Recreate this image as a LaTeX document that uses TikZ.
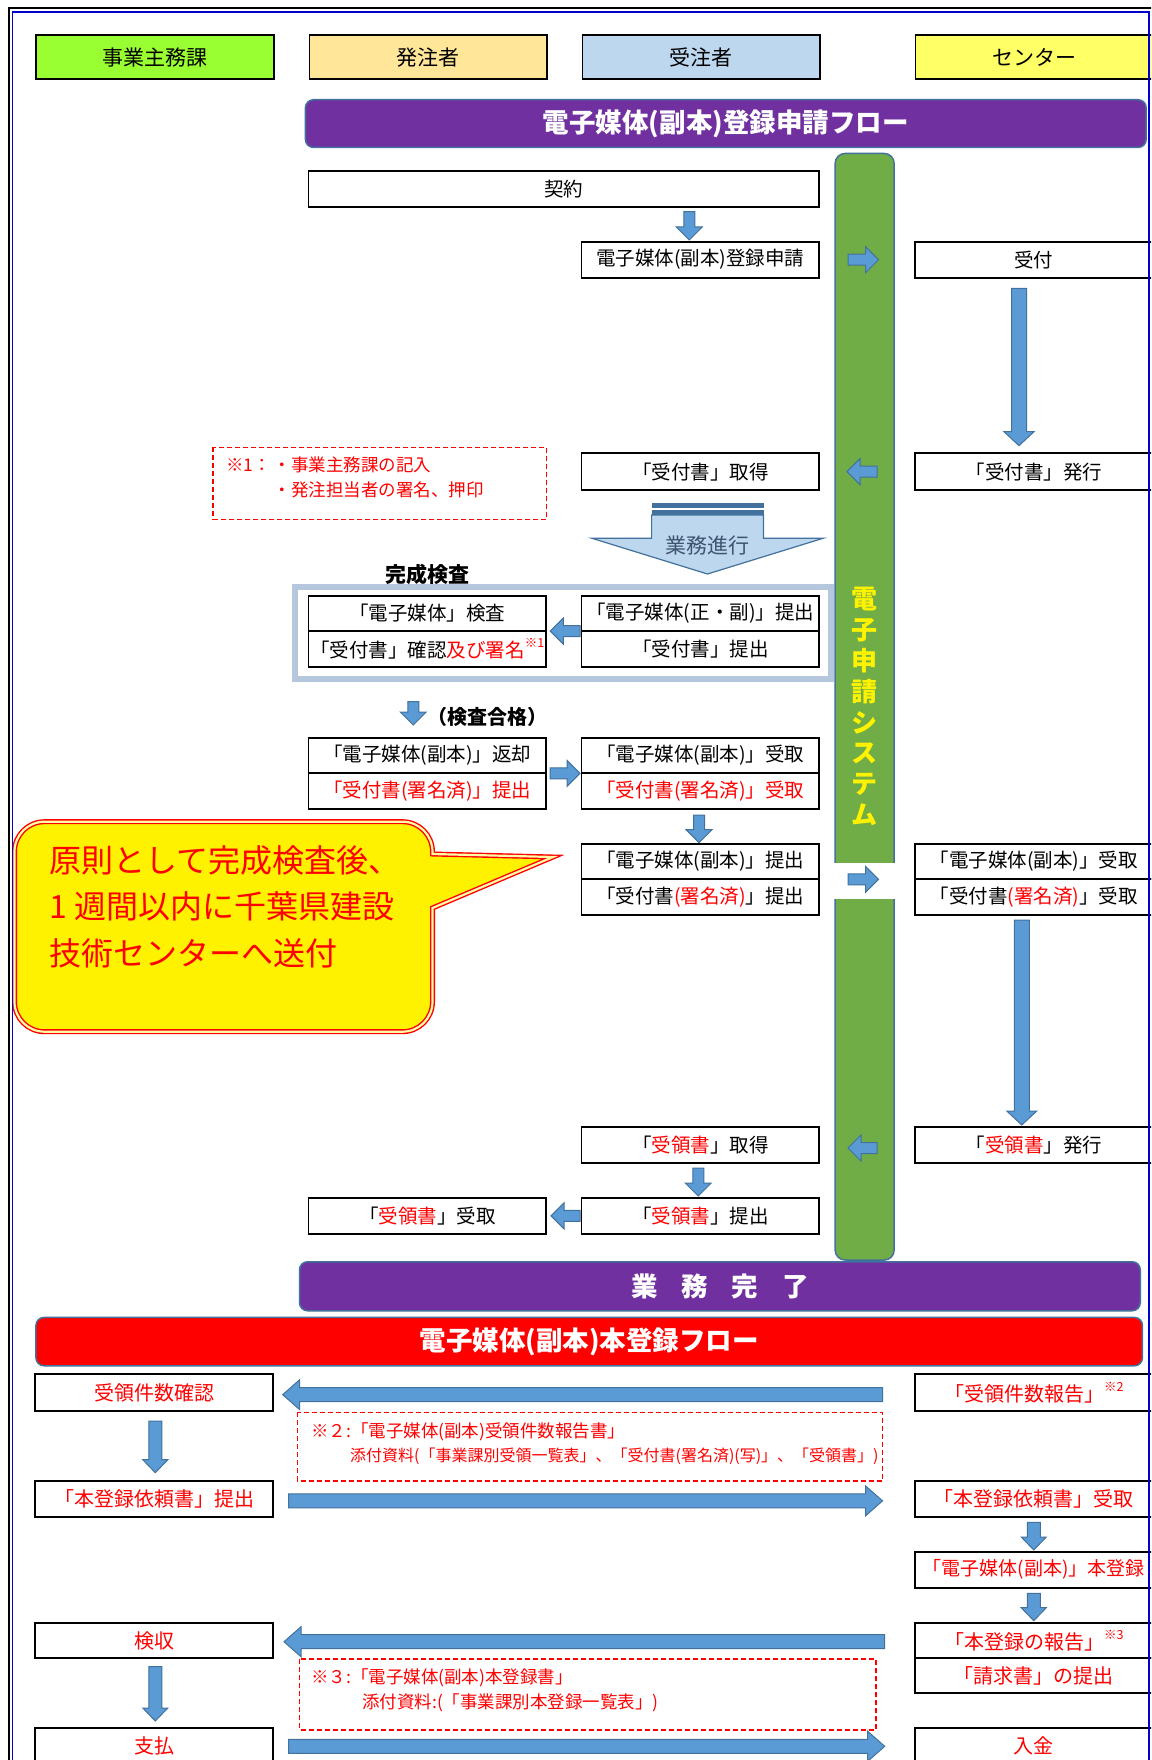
\documentclass[tikz,border=0pt]{standalone}
\usepackage{fontspec}
\setmainfont{Noto Sans CJK JP}
\usetikzlibrary{calc}
\definecolor{purp}{HTML}{7030A0}
\definecolor{gbar}{HTML}{70AD47}
\definecolor{bord}{HTML}{41719C}
\definecolor{arrf}{HTML}{5B9BD5}
\definecolor{hdrg}{HTML}{99FF33}
\definecolor{hdro}{HTML}{FFE699}
\definecolor{hdrb}{HTML}{BDD7EE}
\definecolor{hdry}{HTML}{FFFF66}
\definecolor{framec}{HTML}{B4C7DC}
\definecolor{progtxt}{HTML}{3E5470}
\definecolor{bordblue}{HTML}{0000CC}
\newcommand\supmk[1]{\raisebox{0.5em}{\fontsize{12.5}{12.5}\selectfont #1}}
% block arrow from #1 to #2: shaft half width #3, head half width #4, head length #5
\newcommand\barrow[5]{%
  \coordinate (bs) at (#1);
  \coordinate (be) at (#2);
  \coordinate (bh) at ($(be)!#5!(bs)$);
  \draw[starrow] ($(bs)!#3!90:(be)$) -- ($(bh)!#3!90:(be)$) -- ($(bh)!#4!90:(be)$) -- (be)
    -- ($(bh)!#4!-90:(be)$) -- ($(bh)!#3!-90:(be)$) -- ($(bs)!#3!-90:(be)$) -- cycle;}
\newcommand\sarrow[2]{\barrow{#1}{#2}{5.5pt}{13pt}{13pt}}
\newcommand\marrow[2]{\barrow{#1}{#2}{6.5pt}{12.5pt}{13pt}}
\newcommand\larrow[2]{\barrow{#1}{#2}{7.5pt}{15pt}{14pt}}
\newcommand\bigarrow[2]{\barrow{#1}{#2}{7pt}{15pt}{17pt}}
\tikzset{
  stbox/.style={draw=black, line width=1.8pt, fill=white, anchor=north west, minimum width=237.5pt, minimum height=36pt, inner sep=0pt, outer sep=0pt, font=\fontsize{19.5}{22}\selectfont, text=black},
  stbbox/.style={stbox, font=\fontsize{20}{24}\selectfont, text=red},
  sthdr/.style={draw=black, line width=1.8pt, anchor=north west, minimum width=237.8pt, minimum height=44pt, inner sep=0pt, font=\fontsize{21}{24}\selectfont},
  stbar/.style={draw=bord, line width=1.5pt, rounded corners=8pt, anchor=north west, inner sep=0pt, text=white, font=\bfseries\fontsize{26.5}{30}\selectfont},
  stnote/.style={draw=red, line width=1.5pt, dash pattern=on 5pt off 3pt},
  stn1/.style={anchor=west, inner sep=0pt, align=left, text=red, font=\fontsize{17.5}{25.4}\selectfont},
  stn2/.style={anchor=west, inner sep=0pt, align=left, text=red, font=\fontsize{17.5}{24.3}\selectfont},
  stcall/.style={anchor=west, inner sep=0pt, text=red, font=\fontsize{32}{36}\selectfont},
  starrow/.style={draw=bord, line width=1pt, fill=arrf},
}
\begin{document}
\begin{tikzpicture}[x=1pt,y=-1pt]
\useasboundingbox (0,0) rectangle (1151,1760);
\clip (0,0) rectangle (1151,1760);
\fill[white] (0,0) rectangle (1151,1760);

% lane headers
\node[sthdr, fill=hdrg] (hjigyo) at (35.2,34.5) {事業主務課};
\node[sthdr, fill=hdro] (hhatchu) at (308.5,34.5) {発注者};
\node[sthdr, fill=hdrb] (hjuchu) at (581.5,34.5) {受注者};
\node[sthdr, fill=hdry, minimum width=239pt] (hcenter) at (914.5,34.5) {センター};

% title bar
\node[stbar, fill=purp, minimum width=840.7pt, minimum height=47.7pt] (flow1) at (304.7,99) {電子媒体(副本)登録申請フロー};

% system bar
\node[draw=bord, line width=1.5pt, fill=gbar, rounded corners=10pt, anchor=north west, minimum width=59pt, minimum height=1106.6pt, inner sep=0pt, align=center, text=yellow, font=\bfseries\fontsize{26}{30.8}\selectfont] (sys) at (834.4,152.7) {電\\子\\申\\請\\シ\\ス\\テ\\ム};
\fill[white] (831.5,862.7) rectangle (896.5,899.3);

% upper boxes
\node[stbox, minimum width=510.5pt] (kei) at (308.5,170.7) {契約};
\node[stbox] (shin) at (581.5,241.7) {電子媒体(副本)登録申請};
\node[stbox] (uke) at (915,241.7) {受付};
\node[stbox, minimum height=36.7pt] (ukt) at (581.5,453.3) {「受付書」取得};
\node[stbox, minimum height=36.7pt] (ukh) at (915,453.3) {「受付書」発行};

% note 1
\draw[stnote] (212.8,447.3) rectangle (546.5,519.3);
\node[stn1] (n1) at (226,477.5) {※1：\hspace{3pt}・事業主務課の記入\\\phantom{※1：}\hspace*{3pt}・発注担当者の署名、押印};

% progress arrow
\draw[bord, line width=1.2pt, fill=hdrb] (651.6,515) -- (651.6,538.3) -- (592,538.3) -- (707.5,574) -- (823,538.3) -- (763.5,538.3) -- (763.5,515) -- cycle;
\fill[bord] (651.6,503.3) rectangle (763.5,508.3);
\fill[bord] (651.6,510.3) rectangle (763.5,515);
\node[text=progtxt, font=\fontsize{21}{24}\selectfont] (prog) at (707.5,546) {業務進行};

% inspection frame
\draw[framec, line width=6pt] (295,587) rectangle (831.4,678.7);
\node[font=\bfseries\fontsize{21}{24}\selectfont] (kansei) at (427.3,574) {完成検査};
\node[stbox, minimum height=35.4pt] (kensa1) at (308.5,595.7) {「電子媒体」検査};
\node[stbox, minimum height=35.6pt] (kensa2) at (kensa1.south west) {「受付書」確認\textcolor{red}{及び署名\supmk{※1}}};
\node[stbox, minimum height=35.4pt] (tei1) at (581.5,595.7) {「電子媒体(正・副)」提出};
\node[stbox, minimum height=35.6pt] (tei2) at (tei1.south west) {「受付書」提出};

\node[font=\bfseries\fontsize{20}{22}\selectfont, anchor=west, inner sep=0pt] (goukaku) at (427,716.7) {（検査合格）};

\node[stbox, minimum height=35.6pt] (hen1) at (308.5,737.7) {「電子媒体(副本)」返却};
\node[stbox, minimum height=35.7pt, text=red] (hen2) at (hen1.south west) {「受付書(署名済)」提出};
\node[stbox, minimum height=35.6pt] (ukr1) at (581.5,737.7) {「電子媒体(副本)」受取};
\node[stbox, minimum height=35.7pt, text=red] (ukr2) at (ukr1.south west) {「受付書(署名済)」受取};

\node[stbox, minimum height=35.3pt] (teB1) at (581.5,844) {「電子媒体(副本)」提出};
\node[stbox, minimum height=35.7pt] (teB2) at (teB1.south west) {「受付書\textcolor{red}{(署名済)}」提出};
\node[stbox, minimum height=35.3pt] (ukC1) at (915,844) {「電子媒体(副本)」受取};
\node[stbox, minimum height=35.7pt] (ukC2) at (ukC1.south west) {「受付書\textcolor{red}{(署名済)}」受取};

\node[stbox, minimum height=35.4pt] (ryT) at (581.5,1127.3) {「\textcolor{red}{受領書}」取得};
\node[stbox, minimum height=35.4pt] (ryH) at (915,1127.3) {「\textcolor{red}{受領書}」発行};
\node[stbox, minimum height=36.3pt] (ryS) at (581.5,1197.7) {「\textcolor{red}{受領書}」提出};
\node[stbox, minimum height=36.3pt] (ryU) at (308.5,1197.7) {「\textcolor{red}{受領書}」受取};

% callout
\draw[draw=red, line width=1.4pt, double=yellow!35!white, double distance=2.2pt, fill=yellow]
  (44.5,821.7) -- (402.5,821.7) .. controls (419.1,821.7) and (432.5,835.1) .. (432.5,851.7)
  -- (432.5,854) -- (553,857) -- (432.5,908) -- (432.5,1001.7)
  .. controls (432.5,1018.3) and (419.1,1031.7) .. (402.5,1031.7) -- (44.5,1031.7)
  .. controls (27.9,1031.7) and (14.5,1018.3) .. (14.5,1001.7) -- (14.5,851.7)
  .. controls (14.5,835.1) and (27.9,821.7) .. (44.5,821.7) -- cycle;
\node[stcall] (cl1) at (49,860) {原則として完成検査後、};
\node[stcall] (cl2) at (49,906.7) {1 週間以内に千葉県建設};
\node[stcall] (cl3) at (49,953.3) {技術センターへ送付};

% completion and second flow
\node[stbar, fill=purp, minimum width=840.7pt, minimum height=49pt] (done) at (298.8,1261) {業\hspace{0.9em}務\hspace{0.9em}完\hspace{0.9em}了};
\node[stbar, fill=red, minimum width=1106.5pt, minimum height=48.3pt] (flow2) at (35.2,1316.7) {電子媒体(副本)本登録フロー};

\node[stbbox, minimum width=237.8pt, minimum height=36.7pt] (b1) at (35.2,1374.3) {受領件数確認};
\node[stbbox, minimum height=36.7pt] (c1) at (915,1374.3) {「受領件数報告」\supmk{※2}};
\node[stbbox, minimum width=237.8pt, minimum height=35.7pt] (b2) at (35.2,1481) {「本登録依頼書」提出};
\node[stbbox, minimum height=35.7pt] (c2) at (915,1481) {「本登録依頼書」受取};
\node[stbbox, minimum height=36pt, font=\fontsize{19}{22}\selectfont] (c3) at (915,1551.7) {「電子媒体(副本)」本登録};
\node[stbbox, minimum height=35.6pt] (c4) at (915,1622.7) {「本登録の報告」\supmk{※3}};
\node[stbbox, minimum height=35pt] (c5) at (c4.south west) {「請求書」の提出};
\node[stbbox, minimum width=237.8pt, minimum height=35.6pt] (b3) at (35.2,1622.7) {検収};
\node[stbbox, minimum width=237.8pt, minimum height=36pt] (b4) at (35.2,1728.3) {支払};
\node[stbbox, minimum height=36pt] (c6) at (915,1728.3) {入金};

\draw[stnote] (297.4,1412.3) rectangle (882.5,1481);
\node[stn2] (n2) at (311,1443.8) {※２:「電子媒体(副本)受領件数報告書」\\\hspace*{39pt}{\fontsize{16}{24.3}\selectfont 添付資料(「事業課別受領一覧表」、「受付書(署名済)(写)」、「受領書」)}};
\draw[stnote] (299.6,1659) rectangle (876,1730);
\node[stn2, font=\fontsize{17.5}{25.5}\selectfont] (n3) at (311,1690.3) {※３:「電子媒体(副本)本登録書」\\\hspace*{51pt}添付資料:(「事業課別本登録一覧表」)};

% connectors (block arrows)
\sarrow{[xshift=-11pt,yshift=30pt]shin.north}{[xshift=-11pt,yshift=1.7pt]shin.north}
\sarrow{[xshift=29pt]shin.east}{[xshift=-36.5pt]uke.west}
\larrow{[xshift=-14.75pt,yshift=-10.6pt]uke.south}{[xshift=-14.75pt,yshift=7.6pt]ukh.north}
\sarrow{[xshift=-38pt]ukh.west}{[xshift=28pt]ukt.east}
\sarrow{[xshift=-1.5pt]tei1.south west}{[xshift=4.3pt]kensa1.south east}
\sarrow{[xshift=-14pt,yshift=-35pt]kensa2.south}{[xshift=-14pt,yshift=12.7pt]hen1.north}
\sarrow{[xshift=4pt]hen1.south east}{[xshift=-1.5pt]ukr1.south west}
\sarrow{[xshift=-1.25pt,yshift=-6pt]ukr2.south}{[xshift=-1.25pt,yshift=1.3pt]teB1.north}
\sarrow{[xshift=29pt]teB1.south east}{[xshift=-36.5pt]ukC1.south west}
\larrow{[xshift=-12pt,yshift=-5pt]ukC2.south}{[xshift=-12pt,yshift=2.3pt]ryH.north}
\sarrow{[xshift=-38pt,yshift=-3pt]ryH.west}{[xshift=29pt,yshift=-3pt]ryT.east}
\sarrow{[xshift=-2pt,yshift=-5.3pt]ryT.south}{[xshift=-2pt,yshift=1.7pt]ryS.north}
\sarrow{[xshift=-1.5pt]ryS.west}{[xshift=5pt]ryU.east}

\bigarrow{[xshift=-32.5pt,yshift=-2pt]c1.west}{[xshift=9.7pt,yshift=-2pt]b1.east}
\marrow{[xshift=1.2pt,yshift=-10pt]b1.south}{[xshift=1.2pt,yshift=8.3pt]b2.north}
\bigarrow{[xshift=15.5pt,yshift=-2pt]b2.east}{[xshift=-32.5pt,yshift=-2pt]c2.west}
\marrow{[yshift=-5.6pt]c2.south}{[yshift=1.7pt]c3.north}
\marrow{[yshift=-5.6pt]c3.south}{[yshift=2pt]c4.north}
\bigarrow{[xshift=-30.3pt,yshift=-1.2pt]c4.west}{[xshift=11pt,yshift=-1.2pt]b3.east}
\marrow{[xshift=1.2pt,yshift=-8.4pt]b3.south}{[xshift=1.2pt,yshift=7.3pt]b4.north}
\bigarrow{[xshift=15.5pt]b4.east}{[xshift=-30.3pt]c6.west}

% page border
\draw[black, line width=2pt] (9,1762) -- (9,8.5) -- (1153,8.5);
\draw[bordblue, line width=1.5pt] (12.5,1762) -- (12.5,12) -- (1149,12) -- (1149,1762);
\end{tikzpicture}
\end{document}
